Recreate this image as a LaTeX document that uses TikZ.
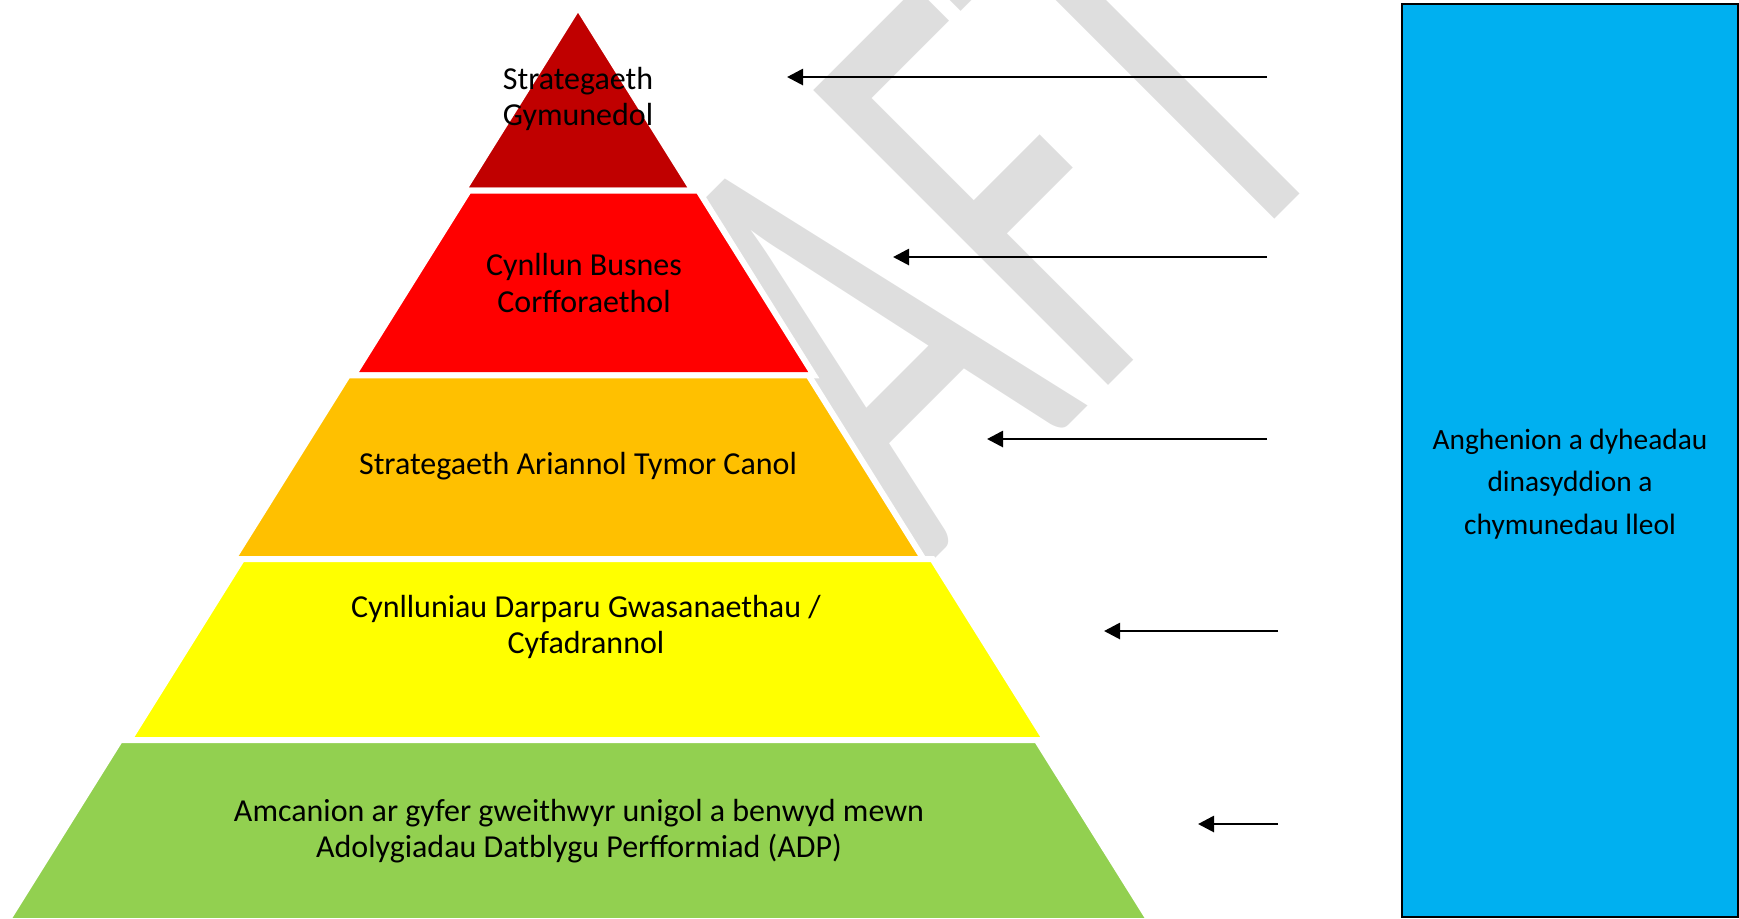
\documentclass[tikz,border=0pt]{standalone}
\usepackage{fontspec}
\setmainfont{Carlito}
\usetikzlibrary{calc,arrows.meta}

\definecolor{tierone}{HTML}{C00000}
\definecolor{tiertwo}{HTML}{FF0000}
\definecolor{tierthree}{HTML}{FFC000}
\definecolor{tierfour}{HTML}{FFFF00}
\definecolor{tierfive}{HTML}{92D050}
\definecolor{needblue}{HTML}{00B0F0}
\definecolor{wmgray}{RGB}{222,222,222}

\tikzset{
	tier/.style={draw=white,line width=3pt,line join=miter},
	tiertext/.style={align=center,inner sep=0pt,font=\fontsize{16}{18.3}\selectfont},
	feed/.style={-{Triangle[length=8pt,width=8pt]},line width=1.4pt},
	watermark/.style={anchor=base west,inner sep=0pt,rotate=45,xscale=0.615,text=wmgray,font=\fontsize{325}{325}\selectfont}
}

\begin{document}
\begin{tikzpicture}[x=0.5pt,y=-0.5pt]
	\useasboundingbox (0,0) rectangle (1739,918);
	\node[watermark] (draft) at (598,896) {DRAFT};

	\coordinate (T) at (578,7);
	\coordinate (L) at (7,921);
	\coordinate (R) at (1150,921);
	\coordinate (L1) at ($(T)!.201!(L)$);
	\coordinate (R1) at ($(T)!.201!(R)$);
	\coordinate (L2) at ($(T)!.403!(L)$);
	\coordinate (R2) at ($(T)!.403!(R)$);
	\coordinate (L3) at ($(T)!.604!(L)$);
	\coordinate (R3) at ($(T)!.604!(R)$);
	\coordinate (L4) at ($(T)!.802!(L)$);
	\coordinate (R4) at ($(T)!.802!(R)$);
	\filldraw[tier,fill=tierone] (T) -- (L1) -- (R1) -- cycle;
	\filldraw[tier,fill=tiertwo,transform canvas={xshift=2.75pt}] (L1) -- (L2) -- (R2) -- (R1) -- cycle;
	\filldraw[tier,fill=tierthree] (L2) -- (L3) -- (R3) -- (R2) -- cycle;
	\filldraw[tier,fill=tierfour,transform canvas={xshift=4.5pt}] (L3) -- (L4) -- (R4) -- (R3) -- cycle;
	\filldraw[tier,fill=tierfive] (L4) -- (L) -- (R) -- (R4) -- cycle;

	\node[tiertext] (one) at (578,99) {Strategaeth\\Gymunedol};
	\node[tiertext] (two) at (584,283) {Cynllun Busnes\\Corfforaethol};
	\node[tiertext] (three) at (578,466) {Strategaeth Ariannol Tymor Canol};
	\node[tiertext] (four) at (586,627) {Cynlluniau Darparu Gwasanaethau /\\Cyfadrannol};
	\node[tiertext] (five) at (579,831) {Amcanion ar gyfer gweithwyr unigol a benwyd mewn\\Adolygiadau Datblygu Perfformiad (ADP)};

	\node[draw,line width=1pt,fill=needblue,minimum width=168pt,minimum height=456.5pt,inner sep=0pt] (needs) at (1570,460.4) {};
	\node[tiertext,font=\fontsize{14.7}{21.3}\selectfont] (needstext) at (1570,484) {Anghenion a dyheadau\\dinasyddion a\\chymunedau lleol};

	% arrows from the needs column
	\coordinate (src1) at (1267,77);
	\coordinate (dst1) at (787,77);
	\coordinate (src2) at (1267,257);
	\coordinate (dst2) at (893,257);
	\coordinate (src3) at (1267,439);
	\coordinate (dst3) at (987,439);
	\coordinate (src4) at (1278,631);
	\coordinate (dst4) at (1104,631);
	\coordinate (src5) at (1278,824);
	\coordinate (dst5) at (1198,824);
	\draw[feed] (src1) -- (dst1);
	\draw[feed] (src2) -- (dst2);
	\draw[feed] (src3) -- (dst3);
	\draw[feed] (src4) -- (dst4);
	\draw[feed] (src5) -- (dst5);
\end{tikzpicture}
\end{document}
